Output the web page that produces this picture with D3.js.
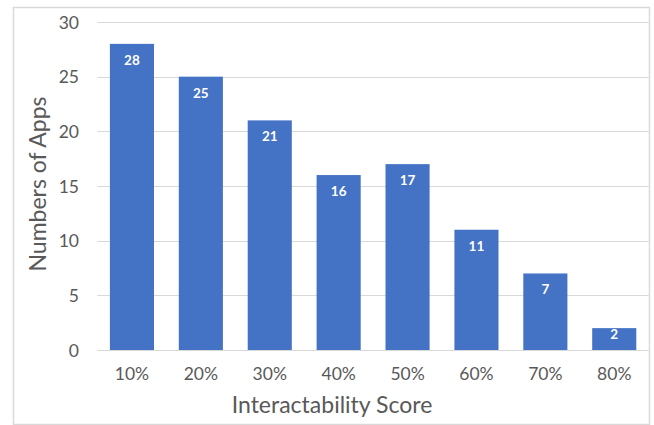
<!DOCTYPE html>
<html>
<head>
<meta charset="utf-8">
<script src="https://cdn.jsdelivr.net/npm/d3@7"></script>
<style>
  html, body { margin: 0; padding: 0; background: #fff; }
  svg { display: block; font-family: Lato, "Open Sans", sans-serif; }
</style>
</head>
<body>
<svg id="chart" width="654" height="425"></svg>
<script>
const categories = ["10%", "20%", "30%", "40%", "50%", "60%", "70%", "80%"];
const appCounts = [28, 25, 21, 16, 17, 11, 7, 2];
const yTicks = [0, 5, 10, 15, 20, 25, 30];
const xTitle = "Interactability Score";
const yTitle = "Numbers of Apps";

const svg = d3.select("#chart");

// chart border
svg.append("rect")
  .attr("x", 13.5).attr("y", 7.5)
  .attr("width", 636).attr("height", 417)
  .attr("fill", "#fff").attr("stroke", "#d9d9d9").attr("stroke-width", 1.5);

const x = d3.scaleBand()
  .domain(categories)
  .range([97.5, 648.7])
  .paddingInner(0.36)
  .paddingOuter(0.18);

const y = d3.scaleLinear().domain([0, 30]).range([350, 22]);

// gridlines
svg.append("g")
  .selectAll("line")
  .data(yTicks)
  .join("line")
  .attr("x1", 97.5).attr("x2", 648.7)
  .attr("y1", d => Math.round(y(d)) + 0.5)
  .attr("y2", d => Math.round(y(d)) + 0.5)
  .attr("stroke", "#d9d9d9").attr("stroke-width", 1);

// y axis labels
const yAxis = d3.axisLeft(y).tickValues(yTicks).tickSize(0).tickPadding(0);
const gy = svg.append("g").attr("transform", "translate(79,0)").call(yAxis);
gy.select(".domain").remove();
gy.selectAll("text")
  .attr("font-family", "Lato, 'Open Sans', sans-serif")
  .attr("font-size", 17.5).attr("fill", "#595959").attr("dy", "0.35em");

// x axis labels
const xAxis = d3.axisBottom(x).tickSize(0).tickPadding(0);
const gx = svg.append("g").attr("transform", "translate(0,367)").call(xAxis);
gx.select(".domain").remove();
gx.selectAll("text")
  .attr("font-family", "Lato, 'Open Sans', sans-serif")
  .attr("font-size", 17.5).attr("fill", "#595959").attr("dy", "0.72em");

// bars
svg.append("g")
  .selectAll("rect")
  .data(appCounts)
  .join("rect")
  .attr("x", (d, i) => x(categories[i]))
  .attr("y", d => y(d))
  .attr("width", x.bandwidth())
  .attr("height", d => y(0) - y(d))
  .attr("fill", "#4472c4");

// data labels
svg.append("g")
  .selectAll("text")
  .data(appCounts)
  .join("text")
  .attr("x", (d, i) => x(categories[i]) + x.bandwidth() / 2)
  .attr("y", d => y(d) + Math.min(21, (y(0) - y(d)) / 2))
  .attr("text-anchor", "middle")
  .attr("font-size", 13.5).attr("font-weight", "bold")
  .attr("fill", "#fff")
  .text(d => d);

// axis titles
svg.append("text")
  .attr("x", 332).attr("y", 413)
  .attr("text-anchor", "middle")
  .attr("font-size", 23).attr("fill", "#595959")
  .text(xTitle);

svg.append("text")
  .attr("transform", "translate(46,184) rotate(-90)")
  .attr("text-anchor", "middle")
  .attr("font-size", 23).attr("fill", "#595959")
  .text(yTitle);
</script>
</body>
</html>
